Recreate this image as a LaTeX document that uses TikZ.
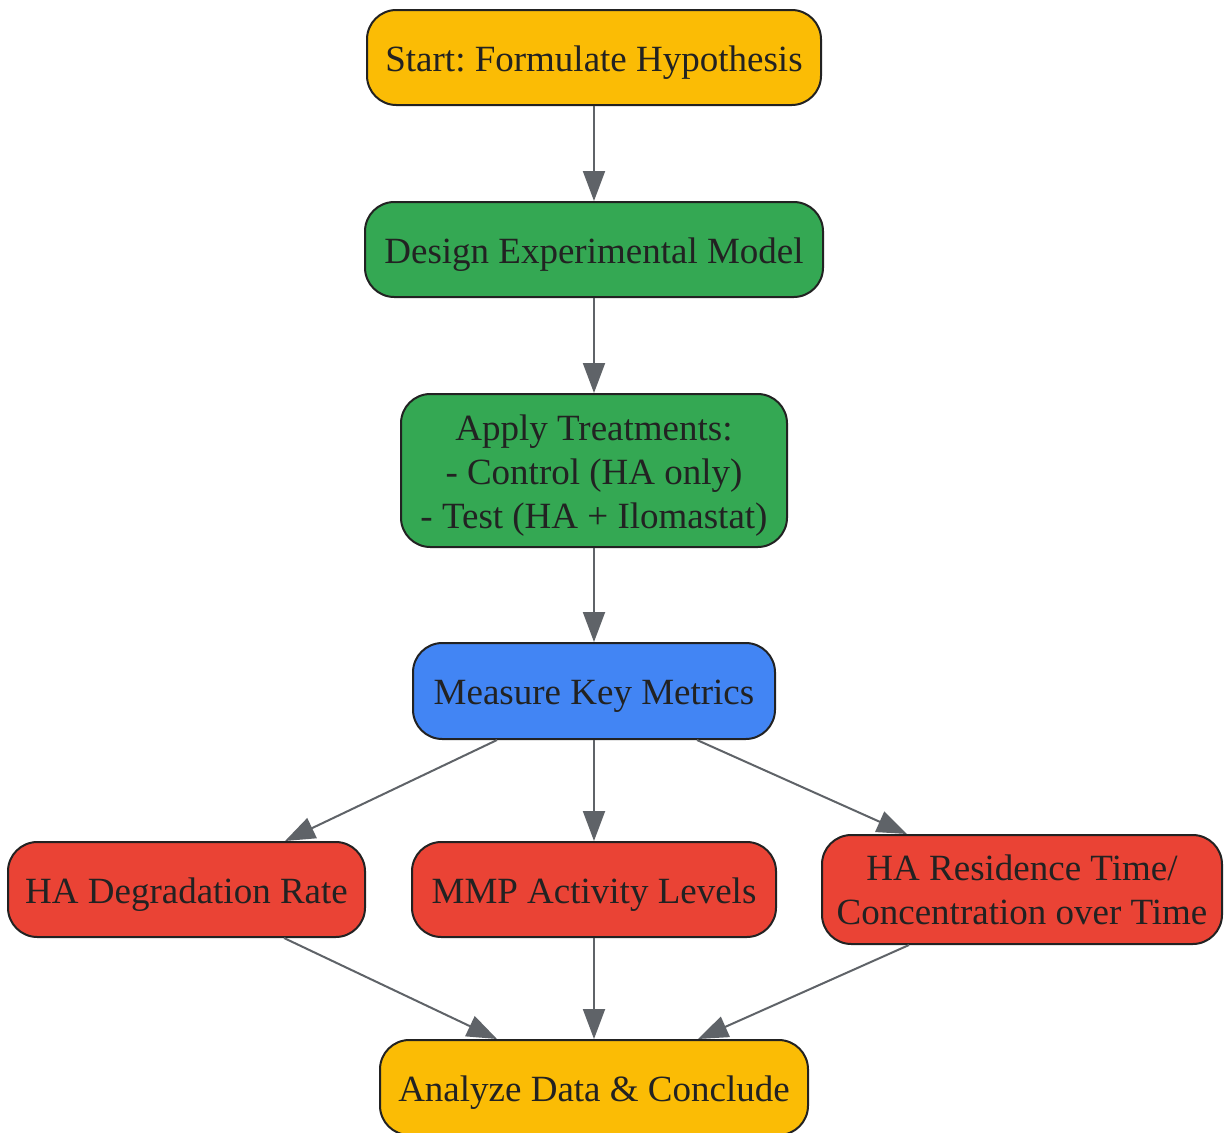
\documentclass[tikz,border=0pt]{standalone}
\usepackage{fontspec}
\setmainfont{Liberation Serif}
\frenchspacing
\usetikzlibrary{arrows.meta,calc}
\definecolor{cyellow}{HTML}{FBBC05}
\definecolor{cgreen}{HTML}{34A853}
\definecolor{cblue}{HTML}{4285F4}
\definecolor{cred}{HTML}{EA4335}
\definecolor{cborder}{HTML}{222222}
\definecolor{ctext}{HTML}{222222}
\definecolor{cedge}{HTML}{5F6368}
\begin{document}
\begin{tikzpicture}[x=0.75pt,y=-0.75pt,
  box/.style={draw=cborder, line width=1.5pt, rounded corners=22pt, inner sep=0pt,
    align=center, text=ctext, minimum height=71.25pt,
    font=\fontsize{27.75pt}{33pt}\selectfont\frenchspacing},
  oneline/.style={text height=26.6pt, text depth=6pt},
  edge/.style={draw=cedge, line width=1.5pt,
    -{Triangle[length=22.5pt,width=16.5pt]}}]
\useasboundingbox (0,0) rectangle (1224,1132);
\clip (0,0) rectangle (1224,1132);
\node[box, oneline, fill=cyellow, minimum width=340.5pt] (start) at (594,57.5) {Start: Formulate Hypothesis};
\node[box, oneline, fill=cgreen, minimum width=343.5pt] (design) at (594,249.5) {Design Experimental Model};
\node[box, text height=92.5pt, fill=cgreen, minimum width=289.5pt, minimum height=114.75pt] (apply) at (594,470.5) {Apply Treatments:\\- Control (HA only)\\- Test (HA + Ilomastat)};
\node[box, oneline, fill=cblue, minimum width=271.5pt, minimum height=72pt] (meas) at (594,691) {Measure Key Metrics};
\node[box, oneline, fill=cred, minimum width=267.75pt] (deg) at (186.5,889.5) {HA Degradation Rate};
\node[box, oneline, fill=cred, minimum width=273pt] (mmp) at (594,889.5) {MMP Activity Levels};
\node[box, fill=cred, minimum width=300pt, minimum height=81.75pt] (res) at (1022,889.5) {HA Residence Time/\\Concentration over Time};
\node[box, oneline, fill=cyellow, minimum width=321pt] (ana) at (594,1087.5) {Analyze Data \& Conclude};
\draw[edge] (start) -- (design);
\draw[edge] (design) -- (apply);
\draw[edge] (apply) -- (meas);
\draw[edge] ($(meas.south)+(-97,0)$) -- ($(deg.north)+(98.5,0)$);
\draw[edge] (meas) -- (mmp);
\draw[edge] ($(meas.south)+(103,0)$) -- ($(res.north)+(-115,0)$);
\draw[edge] ($(deg.south)+(97.5,0)$) -- ($(ana.north)+(-97,0)$);
\draw[edge] (mmp) -- (ana);
\draw[edge] ($(res.south)+(-113,0)$) -- ($(ana.north)+(104,0)$);
\end{tikzpicture}
\end{document}
